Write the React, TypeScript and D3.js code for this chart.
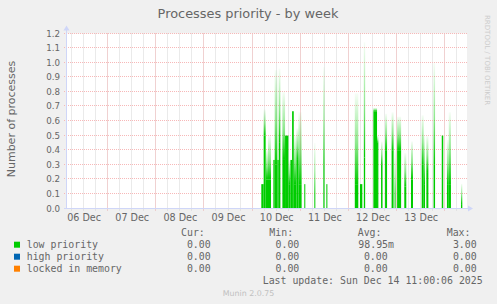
import React from "react";
import * as d3 from "d3";

const W = 497;
const H = 304;

const domainStart = "2025-12-06T04:00";
const domainEnd = "2025-12-14T11:20";

const dayLines = ["2025-12-07T00:00", "2025-12-08T00:00", "2025-12-09T00:00", "2025-12-10T00:00", "2025-12-11T00:00", "2025-12-12T00:00", "2025-12-13T00:00", "2025-12-14T00:00"];
const labelTimes = ["2025-12-06T12:00", "2025-12-07T12:00", "2025-12-08T12:00", "2025-12-09T12:00", "2025-12-10T12:00", "2025-12-11T12:00", "2025-12-12T12:00", "2025-12-13T12:00"];
const xTickLabels = ["06 Dec", "07 Dec", "08 Dec", "09 Dec", "10 Dec", "11 Dec", "12 Dec", "13 Dec"];

const yTicks = [0, 0.1, 0.2, 0.3, 0.4, 0.5, 0.6, 0.7, 0.8, 0.9, 1.0, 1.1, 1.2];
const yTickLabels = ["0.0", "0.1", "0.2", "0.3", "0.4", "0.5", "0.6", "0.7", "0.8", "0.9", "1.0", "1.1", "1.2"];

// low priority activity spans (solid part and faded peak)
const spanStart = [
  "2025-12-10T04:50", "2025-12-10T06:00", "2025-12-10T07:00", "2025-12-10T08:10", "2025-12-10T10:50",
  "2025-12-10T11:30", "2025-12-10T12:50", "2025-12-10T13:30", "2025-12-10T15:20", "2025-12-10T16:40",
  "2025-12-10T18:20", "2025-12-10T19:20", "2025-12-10T20:10", "2025-12-10T21:00", "2025-12-10T22:20",
  "2025-12-10T23:20", "2025-12-11T02:15", "2025-12-11T07:15", "2025-12-11T11:45", "2025-12-11T13:15",
  "2025-12-12T03:25", "2025-12-12T06:00", "2025-12-12T07:55", "2025-12-12T12:40", "2025-12-12T14:30",
  "2025-12-12T16:30", "2025-12-12T18:30", "2025-12-12T21:45", "2025-12-12T23:15", "2025-12-13T00:30",
  "2025-12-13T04:05", "2025-12-13T07:25", "2025-12-13T12:45", "2025-12-13T13:45", "2025-12-13T15:05",
  "2025-12-13T18:40", "2025-12-13T22:45", "2025-12-14T01:20", "2025-12-14T02:15", "2025-12-14T08:20",
];
const spanEnd = [
  "2025-12-10T06:00", "2025-12-10T07:00", "2025-12-10T08:10", "2025-12-10T09:40", "2025-12-10T11:30",
  "2025-12-10T12:50", "2025-12-10T13:30", "2025-12-10T14:20", "2025-12-10T16:40", "2025-12-10T18:20",
  "2025-12-10T19:20", "2025-12-10T20:10", "2025-12-10T21:00", "2025-12-10T22:20", "2025-12-10T23:20",
  "2025-12-11T00:55", "2025-12-11T02:45", "2025-12-11T07:45", "2025-12-11T12:20", "2025-12-11T13:45",
  "2025-12-12T05:10", "2025-12-12T07:10", "2025-12-12T08:35", "2025-12-12T14:30", "2025-12-12T15:10",
  "2025-12-12T17:15", "2025-12-12T19:30", "2025-12-12T22:45", "2025-12-12T23:45", "2025-12-13T02:30",
  "2025-12-13T05:05", "2025-12-13T08:25", "2025-12-13T13:45", "2025-12-13T14:25", "2025-12-13T16:05",
  "2025-12-13T19:25", "2025-12-13T23:30", "2025-12-14T02:15", "2025-12-14T03:20", "2025-12-14T09:00",
];
const solidValue = [
  0.167, 0.5, 0.2, 0.2, 0.333,
  0.3, 0.333, 0.45, 0.333, 0.5,
  0.167, 0.333, 0.667, 0.167, 0.333,
  0.167, 0.167, 0.1, 0.3, 0.167,
  0.167, 0.167, 0.35, 0.667, 0.45,
  0.3, 0.4, 0.4, 0.1, 0.4,
  0.15, 0.2, 0.3, 0.167, 0.25,
  0.3, 0.5, 0.167, 0.167, 0.03,
];
const peakValue = [
  0.167, 0.68, 0.4, 0.5, 0.333,
  0.95, 0.333, 0.96, 0.8, 0.5,
  0.333, 0.333, 0.667, 0.5, 0.55,
  0.66, 0.167, 0.45, 0.97, 0.167,
  0.79, 0.167, 1.14, 0.69, 0.5,
  0.46, 0.65, 0.66, 0.4, 0.63,
  0.38, 0.46, 0.64, 0.5, 0.5,
  1.0, 0.5, 0.47, 0.66, 0.17,
];

const seriesNames = ["low priority", "high priority", "locked in memory"];
const seriesColors = ["#00cc00", "#0066b3", "#ff8000"];
const curValues = ["0.00", "0.00", "0.00"];
const minValues = ["0.00", "0.00", "0.00"];
const avgValues = ["98.95m", "0.00", "0.00"];
const maxValues = ["3.00", "0.00", "0.00"];

const parse = d3.utcParse("%Y-%m-%dT%H:%M");

export default function App() {
  const left = 67;
  const right = 467;
  const top = 33.5;
  const bottom = 208.5;
  const x = d3.scaleUtc().domain([parse(domainStart)!, parse(domainEnd)!]).range([left, right]);
  const y = d3.scaleLinear().domain([0, 1.2]).range([bottom, top]);
  const minorTicks = d3.utcHour.every(6)!.range(parse(domainStart)!, parse(domainEnd)!);
  const font = "'DejaVu Sans', sans-serif";
  const mono = "'DejaVu Sans Mono', monospace";
  const fg = "#666666";
  const axisCol = "#cfd6f8";
  const mgrid = "#f7b8b8";
  const crisp = (v: number) => Math.round(v) + 0.5;

  return (
    <svg width={W} height={H} style={{ position: "absolute", left: 0, top: 0, display: "block" }}>
      <defs>
        <linearGradient id="fade" x1="0" y1="1" x2="0" y2="0">
          <stop offset="0" stopColor="#00cc00" stopOpacity={1} />
          <stop offset="0.45" stopColor="#00cc00" stopOpacity={0.45} />
          <stop offset="1" stopColor="#00cc00" stopOpacity={0.03} />
        </linearGradient>
      </defs>
      <rect x={0} y={0} width={W} height={H} fill="#f0f0f0" />
      <rect x={left} y={top} width={right - left} height={bottom - top} fill="#ffffff" />

      {/* minor vertical grid */}
      {minorTicks.map((t, i) => (
        <line key={"mv" + i} x1={crisp(x(t))} x2={crisp(x(t))} y1={top} y2={bottom + 2}
          stroke="#d4d4d4" strokeDasharray="1,1" />
      ))}
      {/* horizontal major grid */}
      {yTicks.slice(1).map((v, i) => (
        <line key={"hg" + i} x1={left - 3} x2={right} y1={crisp(y(v)) - 1} y2={crisp(y(v)) - 1}
          stroke={mgrid} strokeDasharray="1,1" />
      ))}
      {/* day lines */}
      {dayLines.map((d, i) => (
        <line key={"dl" + i} x1={crisp(x(parse(d)!))} x2={crisp(x(parse(d)!))} y1={top} y2={bottom + 3}
          stroke={mgrid} strokeDasharray="1,1" />
      ))}

      {/* data */}
      {spanStart.map((s, i) => {
        const x0 = x(parse(s)!);
        const x1 = x(parse(spanEnd[i])!);
        const ys = y(solidValue[i]);
        const yp = y(peakValue[i]);
        return (
          <g key={"sp" + i}>
            {peakValue[i] > solidValue[i] && (
              <rect x={x0} y={yp} width={x1 - x0} height={ys - yp} fill="url(#fade)" />
            )}
            <rect x={x0} y={ys} width={x1 - x0} height={bottom - ys} fill="#00cc00" />
          </g>
        );
      })}

      {/* axes */}
      <line x1={left - 0.5} x2={left - 0.5} y1={bottom} y2={top - 5} stroke={axisCol} />
      <path d={`M${left - 3.5},${top - 3} L${left + 2.5},${top - 3} L${left - 0.5},${top - 8} Z`} fill={axisCol} />
      <line x1={left - 3} x2={right + 2} y1={bottom} y2={bottom} stroke={axisCol} />
      <path d={`M${right + 1},${bottom - 3} L${right + 1},${bottom + 3} L${right + 6},${bottom} Z`} fill={axisCol} />

      {/* y labels */}
      {yTicks.map((v, i) => (
        <text key={"yl" + i} x={60} y={y(v) + 3} textAnchor="end" fontFamily={font} fontSize={8.7} fill={fg}>
          {yTickLabels[i]}
        </text>
      ))}
      {/* x labels */}
      {labelTimes.map((t, i) => (
        <text key={"xl" + i} x={x(parse(t)!) + 1} y={221} textAnchor="middle" fontFamily={font} fontSize={9.6} fill={fg}>
          {xTickLabels[i]}
        </text>
      ))}

      {/* title */}
      <text x={248} y={18.3} textAnchor="middle" fontFamily={font} fontSize={12.9} fill={fg}>
        Processes priority - by week
      </text>
      {/* y axis title */}
      <text transform={`translate(14.5,119) rotate(-90)`} textAnchor="middle" fontFamily={font} fontSize={11} fill={fg}>
        Number of processes
      </text>
      {/* watermark right */}
      <text transform={`translate(485,15) rotate(90)`} textAnchor="start" fontFamily={font} fontSize={7} fill="#cccccc">
        RRDTOOL / TOBI OETIKER
      </text>

      {/* legend */}
      <g fontFamily={mono} fontSize={9.9} fill={fg}>
        <text x={181} y={236}>Cur:</text>
        <text x={269.3} y={236}>Min:</text>
        <text x={357.7} y={236}>Avg:</text>
        <text x={446.7} y={236}>Max:</text>
        {seriesNames.map((n, i) => {
          const by = 248 + i * 12;
          return (
            <g key={"lg" + i}>
              <rect x={14} y={by - 6.3} width={6} height={6} fill={seriesColors[i]} />
              <text x={26.7} y={by}>{n}</text>
              <text x={210.7} y={by} textAnchor="end">{curValues[i]}</text>
              <text x={299.3} y={by} textAnchor="end">{minValues[i]}</text>
              <text x={i === 0 ? 394 : 387.7} y={by} textAnchor="end">{avgValues[i]}</text>
              <text x={476.7} y={by} textAnchor="end">{maxValues[i]}</text>
            </g>
          );
        })}
        <text x={482.7} y={284} textAnchor="end">Last update: Sun Dec 14 11:00:06 2025</text>
      </g>
      <text x={248.5} y={295.5} textAnchor="middle" fontFamily={font} fontSize={7.9} fill="#c0c0c0">
        Munin 2.0.75
      </text>
    </svg>
  );
}
